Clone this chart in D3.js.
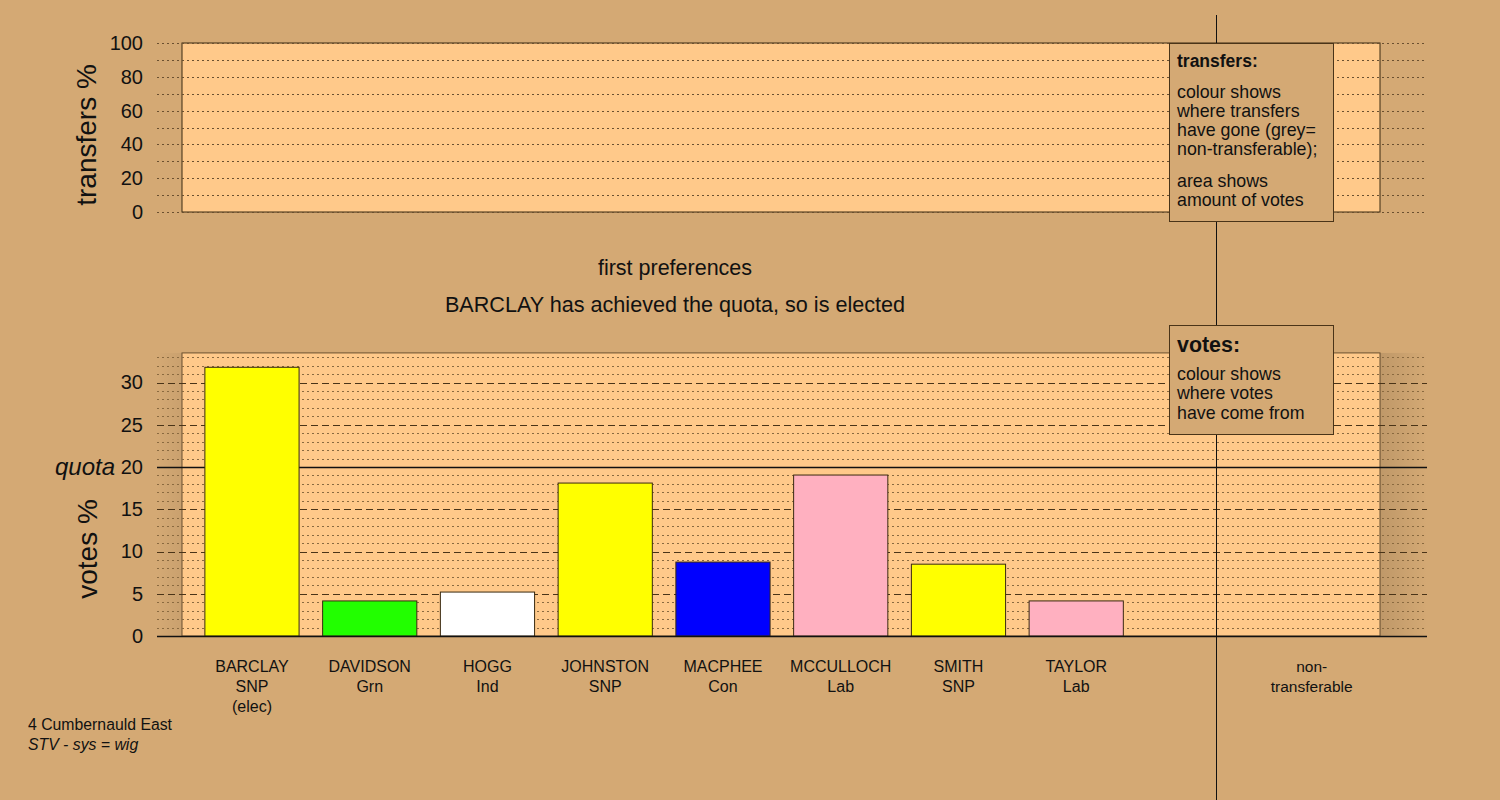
<!DOCTYPE html>
<html><head><meta charset="utf-8">
<script src="https://cdn.jsdelivr.net/npm/d3@7"></script>
<style>body{margin:0;background:#D4A974;} svg{display:block;font-family:"Liberation Sans",Arial,sans-serif;}</style>
</head><body>
<svg id="c" width="1500" height="800"></svg>
<script>
const candidates = ["BARCLAY","DAVIDSON","HOGG","JOHNSTON","MACPHEE","MCCULLOCH","SMITH","TAYLOR"];
const parties = ["SNP","Grn","Ind","SNP","Con","Lab","SNP","Lab"];
const notes = ["(elec)","","","","","","",""];
const votesPct = [31.8, 4.15, 5.2, 18.1, 8.75, 19.05, 8.5, 4.15];
const barColors = ["#ffff00","#22ff00","#ffffff","#ffff00","#0000ff","#ffb0c0","#ffff00","#ffb0c0"];
const slots = [...candidates, "_gap", "non-transferable"];
const transferTicks = [0,20,40,60,80,100];
const voteTicks = [0,5,10,15,20,25,30];
const quota = 20;

const BG = "#D4A974", PANEL = "#FFC98A", INK = "#111";
const svg = d3.select("#c");
svg.append("rect").attr("width",1500).attr("height",800).attr("fill",BG);
const defs = svg.append("defs");
const gR = defs.append("linearGradient").attr("id","shR");
gR.append("stop").attr("offset","0%").attr("stop-color","#000").attr("stop-opacity",0.10);
gR.append("stop").attr("offset","100%").attr("stop-color","#000").attr("stop-opacity",0.0);
const gL = defs.append("linearGradient").attr("id","shL");
gL.append("stop").attr("offset","0%").attr("stop-color","#000").attr("stop-opacity",0.0);
gL.append("stop").attr("offset","100%").attr("stop-color","#000").attr("stop-opacity",0.05);

const x = d3.scaleBand().domain(slots).range([193.1,1370.6]).paddingInner(0.2).paddingOuter(0.1);
const gx0 = 157, gx1 = 1427, px0 = 182, px1 = 1380;

// ---- top panel ----
const yT = d3.scaleLinear().domain([0,100]).range([212,43]);
svg.append("rect").attr("x",px0).attr("y",yT(100)).attr("width",px1-px0).attr("height",yT(0)-yT(100))
  .attr("fill",PANEL).attr("stroke","#3a2a10").attr("stroke-width",1);
svg.append("g").selectAll("line").data(d3.range(0,101,10)).join("line")
  .attr("x1",gx0).attr("x2",gx1).attr("y1",d=>Math.round(yT(d))+0.5).attr("y2",d=>Math.round(yT(d))+0.5)
  .attr("stroke","#6b5030").attr("stroke-width",1).attr("stroke-dasharray","2,3");
const axT = d3.axisLeft(yT).tickValues(transferTicks).tickSize(0).tickPadding(0);
const gaT = svg.append("g").attr("transform","translate(143,0)").call(axT);
gaT.select(".domain").remove();
gaT.selectAll("text").attr("font-size",20).attr("fill",INK).attr("font-family","Liberation Sans, Arial, sans-serif");
svg.append("text").attr("transform",`translate(96,${135}) rotate(-90)`).attr("text-anchor","middle")
  .attr("font-size",28).attr("fill",INK).text("transfers %");

// ---- titles ----
svg.append("text").attr("x",675).attr("y",275).attr("text-anchor","middle").attr("font-size",21.5).attr("fill",INK).text("first preferences");
svg.append("text").attr("x",675).attr("y",312).attr("text-anchor","middle").attr("font-size",21.6).attr("fill",INK).text("BARCLAY has achieved the quota, so is elected");

// ---- bottom panel ----
const yB = d3.scaleLinear().domain([0,20]).range([636,467]);
const topV = 33.5;
svg.append("rect").attr("x",px0).attr("y",yB(topV)).attr("width",px1-px0).attr("height",yB(0)-yB(topV))
  .attr("fill",PANEL).attr("stroke","#6b5030").attr("stroke-width",1);
svg.append("rect").attr("x",px1).attr("y",yB(topV)).attr("width",gx1-px1).attr("height",yB(0)-yB(topV)).attr("fill","url(#shR)");
svg.append("rect").attr("x",gx0).attr("y",yB(topV)).attr("width",px0-gx0).attr("height",yB(0)-yB(topV)).attr("fill","url(#shL)");
const minor = d3.range(1,34).filter(d=>d%5!==0);
svg.append("g").selectAll("line").data(minor).join("line")
  .attr("x1",gx0).attr("x2",gx1).attr("y1",d=>Math.round(yB(d))+0.5).attr("y2",d=>Math.round(yB(d))+0.5)
  .attr("stroke","#8a6a40").attr("stroke-width",1).attr("stroke-dasharray","2,3");
svg.append("g").selectAll("line").data(voteTicks.filter(d=>d!==0 && d!==quota)).join("line")
  .attr("x1",gx0).attr("x2",gx1).attr("y1",d=>Math.round(yB(d))+0.5).attr("y2",d=>Math.round(yB(d))+0.5)
  .attr("stroke","#4a3418").attr("stroke-width",1).attr("stroke-dasharray","7,4");
svg.append("line").attr("x1",gx0).attr("x2",gx1).attr("y1",Math.round(yB(quota))+0.5).attr("y2",Math.round(yB(quota))+0.5)
  .attr("stroke",INK).attr("stroke-width",1.4);

// bars
svg.append("g").selectAll("rect").data(candidates).join("rect")
  .attr("x",d=>x(d)).attr("width",x.bandwidth())
  .attr("y",(d,i)=>yB(votesPct[i])).attr("height",(d,i)=>yB(0)-yB(votesPct[i]))
  .attr("fill",(d,i)=>barColors[i]).attr("stroke","#3a2a10").attr("stroke-width",1);

// baseline
svg.append("line").attr("x1",gx0).attr("x2",gx1).attr("y1",636.5).attr("y2",636.5).attr("stroke",INK).attr("stroke-width",1.5);

const axB = d3.axisLeft(yB).tickValues(voteTicks).tickSize(0).tickPadding(0);
const gaB = svg.append("g").attr("transform","translate(143,0)").call(axB);
gaB.select(".domain").remove();
gaB.selectAll("text").attr("font-size",20).attr("fill",INK).attr("font-family","Liberation Sans, Arial, sans-serif");
svg.append("text").attr("x",115).attr("y",yB(quota)).attr("dy","0.34em").attr("text-anchor","end")
  .attr("font-size",24).attr("font-style","italic").attr("fill",INK).text("quota");
svg.append("text").attr("transform",`translate(97,${549}) rotate(-90)`).attr("text-anchor","middle")
  .attr("font-size",28).attr("fill",INK).text("votes %");

// category labels
const lab = svg.append("g").attr("font-size",16).attr("fill",INK).attr("text-anchor","middle");
candidates.forEach((c,i)=>{
  const cx = x(c)+x.bandwidth()/2;
  [c,parties[i],notes[i]].filter(s=>s).forEach((s,j)=>{
    lab.append("text").attr("x",cx).attr("y",672+j*20).attr("fill",INK).text(s);
  });
});
const ntx = x("non-transferable")+x.bandwidth()/2;
lab.append("text").attr("x",ntx).attr("y",672).attr("fill",INK).attr("font-size",15.5).text("non-");
lab.append("text").attr("x",ntx).attr("y",692).attr("fill",INK).attr("font-size",15.5).text("transferable");

// divider
svg.append("line").attr("x1",1216.5).attr("x2",1216.5).attr("y1",15).attr("y2",800).attr("stroke",INK).attr("stroke-width",1);

// legends
function legend(x0,y0,w,h,title,tsize,lines){
  const g = svg.append("g");
  g.append("rect").attr("x",x0+0.5).attr("y",y0+0.5).attr("width",w).attr("height",h)
    .attr("fill","#D4A974").attr("stroke","#4a3418").attr("stroke-width",1);
  g.append("text").attr("x",x0+8).attr("y",y0+tsize+6).attr("font-size",tsize).attr("font-weight","bold").attr("fill",INK).text(title);
  lines.forEach(([s,yy])=>g.append("text").attr("x",x0+8).attr("y",yy).attr("font-size",17.8).attr("fill",INK).text(s));
}
legend(1169,43,164,178,"transfers:",17.5,[["colour shows",98],["where transfers",117],["have gone (grey=",136],["non-transferable);",155],["area shows",187],["amount of votes",206]]);
legend(1169,325,164,109,"votes:",21.4,[["colour shows",380],["where votes",399],["have come from",419]]);

// footer
svg.append("text").attr("x",28).attr("y",730).attr("font-size",15.8).attr("fill",INK).text("4 Cumbernauld East");
svg.append("text").attr("x",28).attr("y",750).attr("font-size",15.8).attr("font-style","italic").attr("fill",INK).text("STV - sys = wig");
</script>
</body></html>
